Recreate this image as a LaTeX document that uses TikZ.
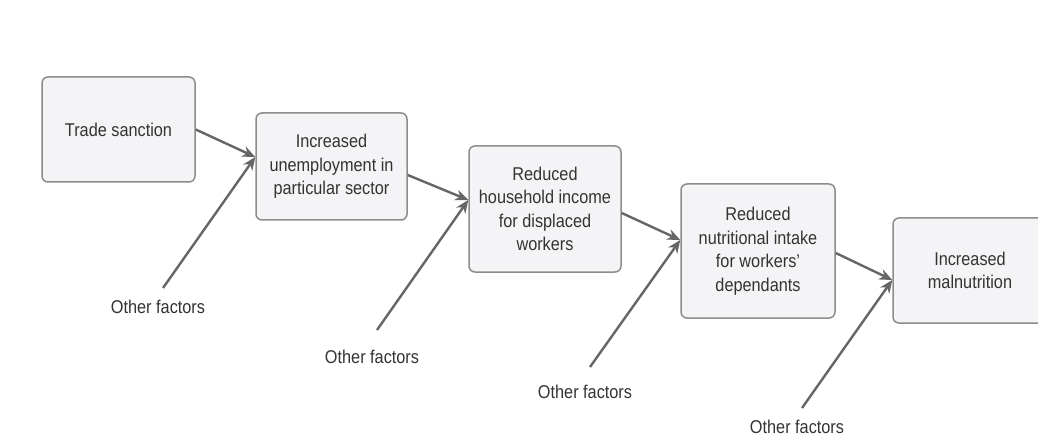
\documentclass[tikz,border=0pt]{standalone}
\usepackage{fontspec}
\setmainfont[FakeStretch=0.88]{Liberation Sans}
\usetikzlibrary{arrows.meta}
\definecolor{boxfill}{HTML}{F4F4F6}
\definecolor{boxdraw}{HTML}{8C8C8C}
\definecolor{arrowc}{HTML}{666666}
\definecolor{txt}{HTML}{333333}
\begin{document}
\begin{tikzpicture}[x=1pt,y=-1pt,
  box/.style={draw=boxdraw, fill=boxfill, rounded corners=6pt, line width=1.5pt,
    text=txt, align=center, inner sep=0pt, font=\fontsize{18.5}{23.5}\selectfont},
  lab/.style={text=txt, inner sep=0pt, font=\fontsize{18.5}{22}\selectfont},
  arr/.style={draw=arrowc, line width=2.4pt, -{Stealth[length=13pt,width=11pt]}}]
\useasboundingbox[fill=white] (0,0) rectangle (1038,438);
\node[box, minimum width=153pt, minimum height=105pt] (b1) at (118.5,129.5) {Trade sanction};
\node[box, minimum width=151pt, minimum height=107pt] (b2) at (331.5,166.5) {Increased\\unemployment in\\particular sector};
\node[box, minimum width=152pt, minimum height=126pt] (b3) at (545,209) {Reduced\\household income\\for displaced\\workers};
\node[box, minimum width=154pt, minimum height=134pt] (b4) at (758,251) {Reduced\\nutritional intake\\for workers'\\dependants};
\node[box, minimum width=154pt, minimum height=105pt] (b5) at (970,270.5) {Increased\\malnutrition};
\node[lab] (o1) at (158,307) {Other factors};
\node[lab] (o2) at (372,357) {Other factors};
\node[lab] (o3) at (585,392) {Other factors};
\node[lab] (o4) at (797,427) {Other factors};
\coordinate (t2) at ([yshift=9.5pt]b2.west);
\coordinate (t3) at ([yshift=9pt]b3.west);
\coordinate (t4) at ([yshift=11pt]b4.west);
\coordinate (t5) at ([yshift=-9.5pt]b5.west);
\draw[arr] (b1.east) -- (t2);
\draw[arr] ([yshift=-8.5pt]b2.east) -- (t3);
\draw[arr] ([yshift=-4pt]b3.east) -- (t4);
\draw[arr] ([yshift=-2pt]b4.east) -- (t5);
\draw[arr] ([shift={(5,-19)}]o1.center) -- (t2);
\draw[arr] ([shift={(5,-27)}]o2.center) -- (t3);
\draw[arr] ([shift={(5,-25)}]o3.center) -- (t4);
\draw[arr] ([shift={(5,-19)}]o4.center) -- (t5);
\end{tikzpicture}
\end{document}
